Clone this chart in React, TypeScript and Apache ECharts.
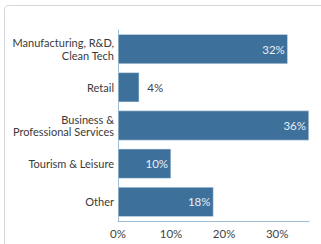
import React, { useEffect, useRef } from "react";
import * as echarts from "echarts";

const categories = ["Manufacturing, R&D,\nClean Tech", "Retail", "Business &\nProfessional Services", "Tourism & Leisure", "Other"];
const values = [32, 4, 36, 10, 18];
const xTicks = [0, 10, 20, 30];

export default function App() {
  const ref = useRef<HTMLDivElement>(null);
  useEffect(() => {
    const chart = echarts.init(ref.current!, null, { renderer: "svg" });
    chart.setOption({
      animation: false,
      textStyle: { fontFamily: "Lato, sans-serif" },
      graphic: [
        {
          type: "rect",
          shape: { x: 4.5, y: 5.5, width: 330, height: 260, r: 4 },
          style: { fill: "#fff", stroke: "#d4d8de", lineWidth: 1 },
          z: -10,
        },
      ],
      grid: { left: 118, right: 12, top: 30, bottom: 23, containLabel: false, outerBoundsMode: "none" },
      xAxis: {
        type: "value",
        min: 0,
        max: 36,
        interval: 10,
        axisLine: { show: true, lineStyle: { color: "#9dbcd6", width: 1 } },
        axisTick: { show: false },
        splitLine: { show: false },
        axisLabel: {
          color: "#444",
          fontSize: 11.5,
          margin: 6,
          formatter: (v: number) => (xTicks.includes(v) ? v + "%" : ""),
        },
      },
      yAxis: {
        type: "category",
        inverse: true,
        data: categories,
        axisLine: { show: true, lineStyle: { color: "#9dbcd6", width: 1 } },
        axisTick: { show: false },
        axisLabel: { color: "#3a3a3a", fontSize: 11, margin: 4, lineHeight: 12.5, align: "right" },
      },
      series: [
        {
          type: "bar",
          data: values.map((v) => ({
            value: v,
            label:
              v < 6
                ? { show: true, position: "right", color: "#444", formatter: "{c}%", distance: 8 }
                : { show: true, position: "insideRight", color: "#e8eef5", formatter: "{c}%", distance: 3 },
          })),
          barCategoryGap: "22%",
          itemStyle: { color: "#3d719b", borderColor: "#dfe8f0", borderWidth: 0.5 },
          label: { fontSize: 11.5 },
        },
      ],
    });
    return () => chart.dispose();
  }, []);
  return <div ref={ref} style={{ width: 321, height: 244, position: "absolute", left: 0, top: 0 }} />;
}
